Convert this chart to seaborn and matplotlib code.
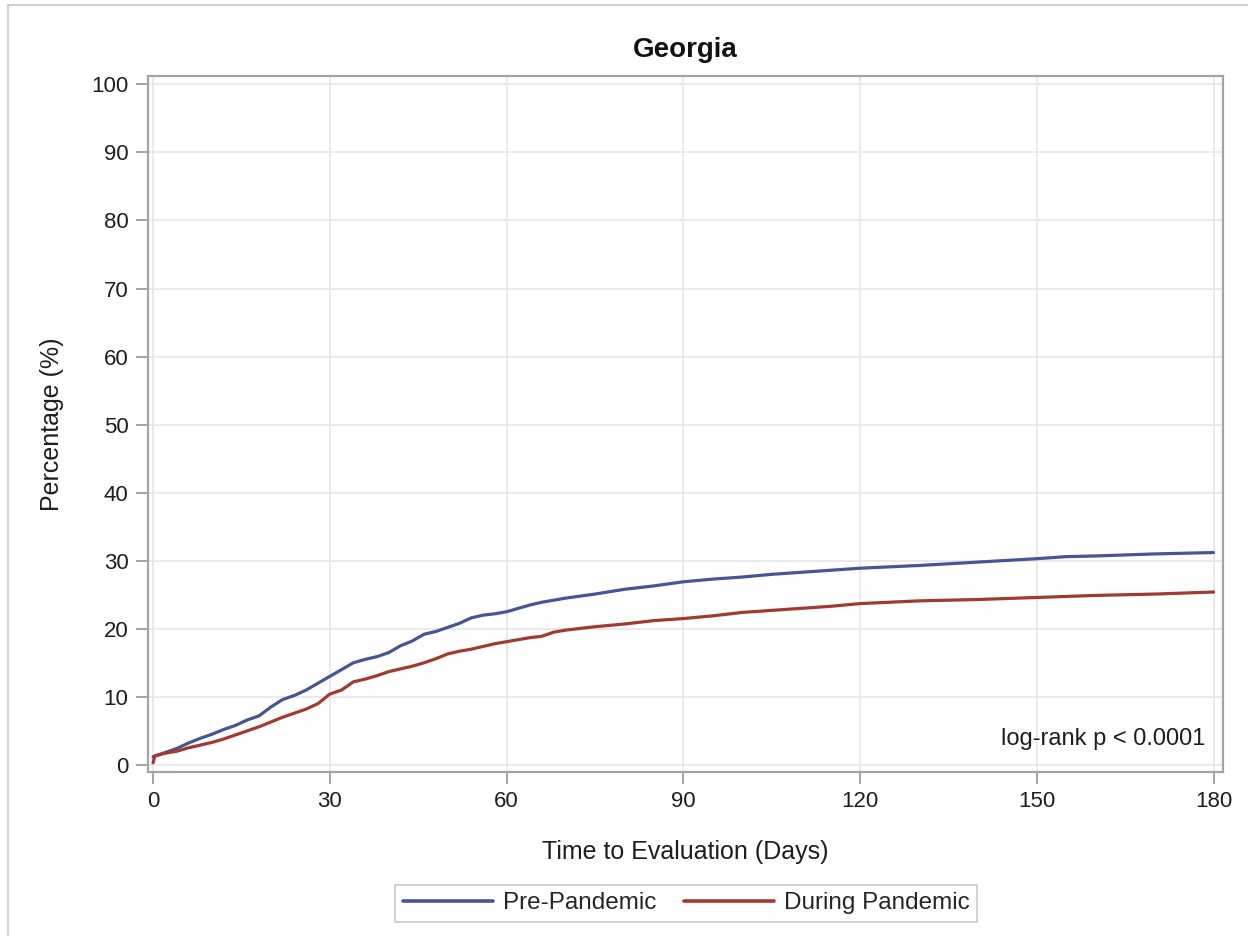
import matplotlib
matplotlib.use("Agg")
import matplotlib.pyplot as plt
import seaborn as sns
import pandas as pd
from matplotlib.lines import Line2D

pre_days = [0, 2, 4, 6, 8, 10, 12, 14, 16, 18, 20, 22, 24, 26, 28, 30, 32, 34, 36, 38,
            40, 42, 44, 46, 48, 50, 52, 54, 56, 58, 60, 62, 64, 66, 68, 70, 75, 80, 85,
            90, 95, 100, 105, 110, 115, 120, 130, 140, 150, 155, 160, 170, 180]
pre_pct = [1.2, 1.8, 2.4, 3.2, 3.9, 4.5, 5.2, 5.8, 6.6, 7.2, 8.5, 9.6, 10.2, 11.0, 12.0,
           13.0, 14.0, 15.0, 15.5, 15.9, 16.5, 17.5, 18.2, 19.2, 19.6, 20.2, 20.8, 21.6,
           22.0, 22.2, 22.5, 23.0, 23.5, 23.9, 24.2, 24.5, 25.1, 25.8, 26.3, 26.9, 27.3,
           27.6, 28.0, 28.3, 28.6, 28.9, 29.3, 29.8, 30.3, 30.6, 30.7, 31.0, 31.2]

dur_days = [0, 0.3, 2, 4, 6, 8, 10, 12, 14, 16, 18, 20, 22, 24, 26, 28, 30, 32, 34, 36,
            38, 40, 42, 44, 46, 48, 50, 52, 54, 56, 58, 60, 62, 64, 66, 68, 70, 75, 80,
            85, 90, 95, 100, 105, 110, 115, 120, 130, 140, 150, 160, 170, 180]
dur_pct = [0.3, 1.3, 1.7, 2.0, 2.5, 2.9, 3.3, 3.8, 4.4, 5.0, 5.6, 6.3, 7.0, 7.6, 8.2,
           9.0, 10.4, 11.0, 12.2, 12.6, 13.1, 13.7, 14.1, 14.5, 15.0, 15.6, 16.3, 16.7,
           17.0, 17.4, 17.8, 18.1, 18.4, 18.7, 18.9, 19.5, 19.8, 20.3, 20.7, 21.2, 21.5,
           21.9, 22.4, 22.7, 23.0, 23.3, 23.7, 24.1, 24.3, 24.6, 24.9, 25.1, 25.4]

groups = ["Pre-Pandemic", "During Pandemic"]
colors = ["#445694", "#A23A2E"]
x_ticks = [0, 30, 60, 90, 120, 150, 180]
y_ticks = list(range(0, 101, 10))

df = pd.concat([
    pd.DataFrame({"Days": pre_days, "Pct": pre_pct, "Group": groups[0]}),
    pd.DataFrame({"Days": dur_days, "Pct": dur_pct, "Group": groups[1]}),
])

sns.set_theme(style="white")
plt.rcParams["font.family"] = ["Liberation Sans", "DejaVu Sans"]

fig = plt.figure(figsize=(12.48, 9.36), dpi=100)
ax = fig.add_axes([0.1186, 0.1752, 0.8614, 0.7441])

sns.lineplot(data=df, x="Days", y="Pct", hue="Group", palette=colors,
             hue_order=groups, linewidth=2.3, ax=ax, sort=True, estimator=None)

ax.set_xlim(-0.85, 181.6)
ax.set_ylim(-1.05, 101.3)
ax.set_xticks(x_ticks)
ax.set_yticks(y_ticks)
ax.grid(True, color="#e6e6e6", linewidth=1.2)
ax.set_axisbelow(True)
for s in ax.spines.values():
    s.set_color("#a4a4a4")
    s.set_linewidth(1.6)
ax.tick_params(axis="both", which="both", length=8.5, width=1.4, color="#a4a4a4",
               labelsize=16, labelcolor="#1e1e1e", pad=5.5, direction="out",
               bottom=True, left=True)

ax.set_xlabel("Time to Evaluation (Days)", fontsize=18, color="#1e1e1e", labelpad=20)
ax.set_ylabel("Percentage (%)", fontsize=18, color="#1e1e1e", labelpad=20)
ax.set_title("Georgia", fontsize=20, fontweight="bold", color="#111111", pad=13)

ax.text(0.984, 0.032, "log-rank p < 0.0001", transform=ax.transAxes, ha="right",
        va="bottom", fontsize=17, color="#1e1e1e")

handles, labels = ax.get_legend_handles_labels()
ax.legend_.remove()
leg = fig.legend(handles, labels, loc="center", bbox_to_anchor=(0.55, 0.035),
                 ncol=2, frameon=True, fancybox=False, fontsize=17.5,
                 handlelength=3.7, columnspacing=1.1, handletextpad=0.45,
                 borderpad=0.3, edgecolor="#bcbcbc")
leg.get_frame().set_linewidth(1.2)
for h in leg.legend_handles:
    h.set_linewidth(2.6)

fig.add_artist(Line2D([8 / 1248, 8 / 1248], [0, 1 - 5 / 936], transform=fig.transFigure,
                      color="#d0d0d0", linewidth=1.5))
fig.add_artist(Line2D([8 / 1248, 1], [1 - 5 / 936, 1 - 5 / 936], transform=fig.transFigure,
                      color="#d0d0d0", linewidth=1.5))

fig.savefig("out.png", dpi=100)
